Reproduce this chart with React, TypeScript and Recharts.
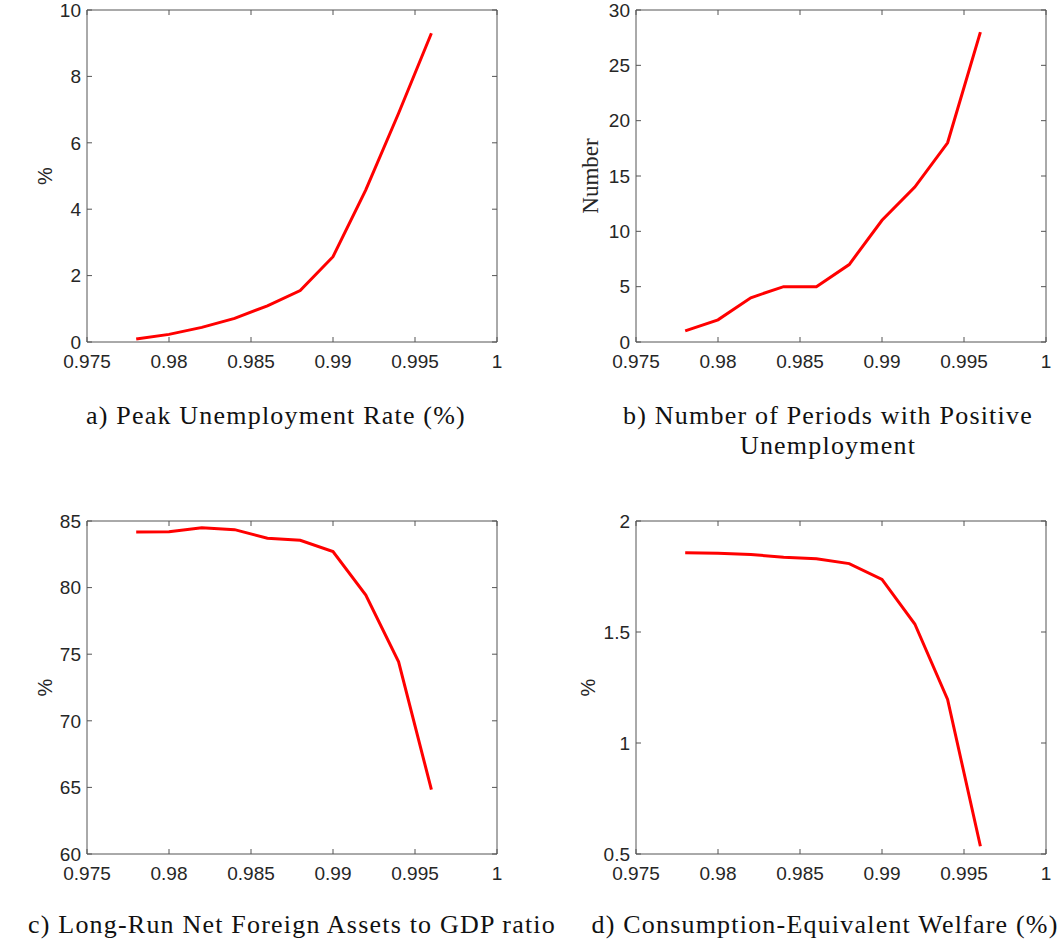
import React from 'react';
import { LineChart, Line, XAxis, YAxis } from 'recharts';

// discount factor grid (x axis of every panel)
const beta = [0.978, 0.98, 0.982, 0.984, 0.986, 0.988, 0.99, 0.992, 0.994, 0.996];

const peakUnemployment = [0.09, 0.23, 0.44, 0.71, 1.09, 1.55, 2.57, 4.58, 6.89, 9.3];
const periodsPositive = [1, 2, 4, 5, 5, 7, 11, 14, 18, 28];
const nfaToGdp = [84.17, 84.2, 84.5, 84.35, 83.7, 83.55, 82.7, 79.44, 74.43, 64.83];
const welfare = [1.857, 1.855, 1.849, 1.837, 1.83, 1.808, 1.737, 1.536, 1.196, 0.535];

const xTicks = [0.975, 0.98, 0.985, 0.99, 0.995, 1];
const ticksA = [0, 2, 4, 6, 8, 10];
const ticksB = [0, 5, 10, 15, 20, 25, 30];
const ticksC = [60, 65, 70, 75, 80, 85];
const ticksD = [0.5, 1, 1.5, 2];

const AXIS = '#555';
const TXT = '#262626';
const SANS = '"Liberation Sans", Arial, sans-serif';
const SERIF = '"Liberation Serif", "Times New Roman", serif';

const tickStyle = { fontSize: 19, fill: TXT, fontFamily: SANS };

type PanelProps = {
    values: number[];
    yTicks: number[];
    yLabel: string;
    serifLabel?: boolean;
    left: number;
    top: number;
    width: number;
    height: number;
    margin: { top: number; right: number; bottom: number; left: number };
    yWidth: number;
};

function Panel({ values, yTicks, yLabel, serifLabel, left, top, width, height, margin, yWidth }: PanelProps) {
    const data = beta.map((b, i) => ({ beta: b, v: values[i] }));
    const yDomain = [yTicks[0], yTicks[yTicks.length - 1]];

    return (
        <div style={{ position: 'absolute', left, top }}>
            <LineChart width={width} height={height} data={data} margin={margin}>
                <XAxis
                    xAxisId="top"
                    orientation="top"
                    type="number"
                    dataKey="beta"
                    domain={[0.975, 1]}
                    ticks={xTicks}
                    allowDataOverflow
                    interval={0}
                    height={1}
                    tickSize={-5}
                    tickFormatter={() => ''}
                    stroke={AXIS}
                />
                <XAxis
                    type="number"
                    dataKey="beta"
                    domain={[0.975, 1]}
                    ticks={xTicks}
                    allowDataOverflow
                    interval={0}
                    height={40}
                    tickSize={-5}
                    tickMargin={18}
                    stroke={AXIS}
                    tick={tickStyle}
                />
                <YAxis
                    type="number"
                    domain={yDomain}
                    ticks={yTicks}
                    allowDataOverflow
                    interval={0}
                    width={yWidth}
                    tickSize={-5}
                    tickMargin={11}
                    stroke={AXIS}
                    tick={tickStyle}
                    label={{
                        value: yLabel,
                        angle: -90,
                        position: 'center',
                        fill: TXT,
                        fontSize: serifLabel ? 23 : 20,
                        fontFamily: serifLabel ? SERIF : SANS,
                    }}
                />
                <YAxis
                    yAxisId="right"
                    orientation="right"
                    type="number"
                    domain={yDomain}
                    ticks={yTicks}
                    allowDataOverflow
                    interval={0}
                    width={1}
                    tickSize={-5}
                    tickFormatter={() => ''}
                    stroke={AXIS}
                />
                <Line
                    type="linear"
                    dataKey="v"
                    stroke="#ff0000"
                    strokeWidth={3}
                    dot={false}
                    isAnimationActive={false}
                />
            </LineChart>
        </div>
    );
}

const captionStyle: React.CSSProperties = {
    position: 'absolute',
    width: 600,
    textAlign: 'center',
    fontFamily: SERIF,
    fontSize: 26,
    letterSpacing: 1.2,
    lineHeight: '30px',
    color: '#111',
    whiteSpace: 'nowrap',
};

export default function App() {
    return (
        <div style={{ position: 'absolute', left: 0, top: 0, width: 1061, height: 947, background: '#fff', overflow: 'hidden' }}>
            <Panel
                values={peakUnemployment}
                yTicks={ticksA}
                yLabel="%"
                left={0}
                top={0}
                width={530}
                height={390}
                margin={{ top: 9, right: 32, bottom: 8, left: 3 }}
                yWidth={84}
            />
            <Panel
                values={periodsPositive}
                yTicks={ticksB}
                yLabel="Number"
                serifLabel
                left={540}
                top={0}
                width={521}
                height={390}
                margin={{ top: 9, right: 14, bottom: 8, left: 4 }}
                yWidth={92}
            />
            <Panel
                values={nfaToGdp}
                yTicks={ticksC}
                yLabel="%"
                left={0}
                top={500}
                width={530}
                height={400}
                margin={{ top: 20, right: 32, bottom: 6, left: 3 }}
                yWidth={84}
            />
            <Panel
                values={welfare}
                yTicks={ticksD}
                yLabel="%"
                left={540}
                top={500}
                width={521}
                height={400}
                margin={{ top: 20, right: 14, bottom: 6, left: 0 }}
                yWidth={96}
            />

            <div style={{ ...captionStyle, left: 276 - 300, top: 401 }}>a) Peak Unemployment Rate (%)</div>
            <div style={{ ...captionStyle, left: 828 - 300, top: 401 }}>
                b) Number of Periods with Positive
                <br />
                Unemployment
            </div>
            <div style={{ ...captionStyle, left: 292 - 300, top: 910 }}>c) Long-Run Net Foreign Assets to GDP ratio</div>
            <div style={{ ...captionStyle, left: 825 - 300, top: 910 }}>d) Consumption-Equivalent Welfare (%)</div>
        </div>
    );
}
